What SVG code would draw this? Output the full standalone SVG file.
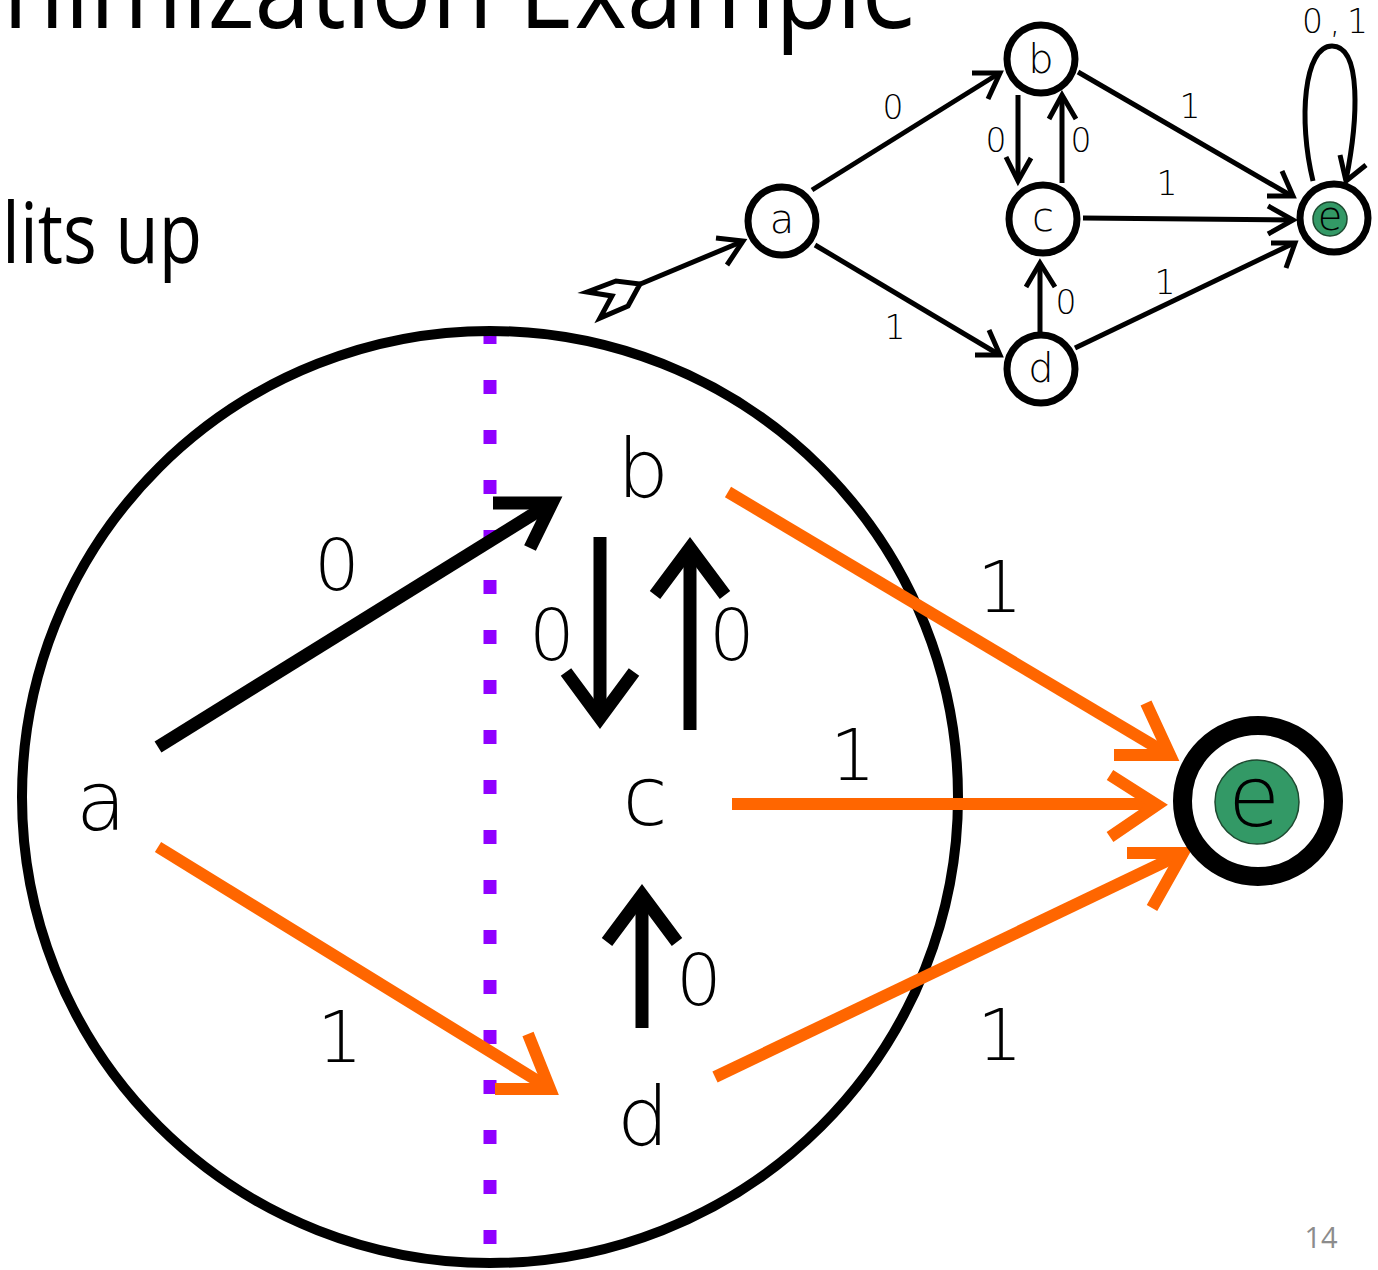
<svg xmlns="http://www.w3.org/2000/svg" width="1378" height="1270" viewBox="0 0 1378 1270">
<style>
.bg{fill:#ffffff}
.title{font-family:"Open Sans","Liberation Sans",sans-serif;fill:#000}
.lt{font-family:"DejaVu Sans","Liberation Sans",sans-serif;font-weight:200;fill:#000;text-anchor:middle}
.dg{font-family:"DejaVu Sans","Liberation Sans",sans-serif;font-weight:200;fill:#000;text-anchor:middle}
.blk{fill:none;stroke:#000;stroke-width:13;stroke-linejoin:miter;stroke-miterlimit:10}
.org{fill:none;stroke:#FF6600;stroke-width:12;stroke-linejoin:miter;stroke-miterlimit:10}
.sm{fill:none;stroke:#000;stroke-width:5;stroke-linejoin:miter;stroke-miterlimit:10}
.node{fill:#fff;stroke:#000;stroke-width:7}
.green{fill:#339966;stroke:#1d4a30;stroke-width:1.5}
</style>
<rect class="bg" x="0" y="0" width="1378" height="1270"/>

<!-- slide texts -->
<text class="title" x="3" y="28" font-size="112" textLength="915" lengthAdjust="spacingAndGlyphs">nimization Example</text>
<text class="title" x="2" y="263" font-size="84" textLength="200" lengthAdjust="spacingAndGlyphs">lits up</text>
<text x="1321" y="1248" font-size="29" fill="#8c8c8c" text-anchor="middle" font-family="'Open Sans','Liberation Sans',sans-serif">14</text>

<!-- big diagram: partition line and group circle -->
<g id="partition">
<line x1="490" y1="330" x2="490" y2="1245" stroke="#9000FF" stroke-width="13" stroke-dasharray="14 36"/>
</g>
<g id="group">
<ellipse cx="490" cy="797" rx="468" ry="466" fill="none" stroke="#000" stroke-width="10"/>
</g>

<!-- big diagram connectors -->
<g id="connectors-big">
<line class="blk" x1="158" y1="747" x2="548" y2="505"/>
<polyline class="blk" points="493,503 552,503 530,548"/>
<line class="blk" x1="600" y1="537" x2="600" y2="712"/>
<polyline class="blk" points="566,672 600,718 634,672"/>
<line class="blk" x1="690" y1="730" x2="690" y2="554"/>
<polyline class="blk" points="655,595 690,548 725,595"/>
<line class="blk" x1="642" y1="1028" x2="642" y2="900"/>
<polyline class="blk" points="607,942 642,895 677,942"/>
<line class="org" x1="158" y1="847" x2="546" y2="1086"/>
<polyline class="org" points="495,1089 550,1089 528,1034"/>
<line class="org" x1="728" y1="492" x2="1166" y2="753"/>
<polyline class="org" points="1114,755 1170,755 1146,703"/>
<line class="org" x1="732" y1="804" x2="1154" y2="804"/>
<polyline class="org" points="1110,775 1157,805 1110,837"/>
<line class="org" x1="715" y1="1077" x2="1179" y2="855"/>
<polyline class="org" points="1127,853 1183,853 1152,908"/>
</g>

<!-- big diagram labels -->
<g id="labels-big">
<text class="dg" x="337" y="590" font-size="72">0</text>
<text class="dg" x="552" y="660" font-size="72">0</text>
<text class="dg" x="732" y="660" font-size="72">0</text>
<text class="dg" x="699" y="1005" font-size="72">0</text>
<text class="dg" x="853" y="780" font-size="72">1</text>
<text class="dg" x="1000" y="612" font-size="72">1</text>
<text class="dg" x="1000" y="1060" font-size="72">1</text>
<text class="dg" x="340" y="1062" font-size="72">1</text>
</g>

<!-- big nodes -->
<g id="A"><text class="lt" x="101" y="830" font-size="82">a</text></g>
<g id="B"><text class="lt" x="643" y="497" font-size="82">b</text></g>
<g id="C"><text class="lt" x="645" y="825" font-size="82">c</text></g>
<g id="D"><text class="lt" x="643" y="1145" font-size="82">d</text></g>
<g id="E">
<circle cx="1258" cy="801" r="75.5" fill="#fff" stroke="#000" stroke-width="19"/>
<circle class="green" cx="1257" cy="802" r="42"/>
<text class="lt" x="1254" y="826" font-size="84">e</text>
</g>

<!-- small diagram connectors -->
<g id="connectors-small">
<polygon points="587,292 616,281 640,284 628,306 600,318 612,296" fill="#fff" stroke="#000" stroke-width="5" stroke-linejoin="miter"/>
<line class="sm" x1="638" y1="285" x2="741" y2="242"/>
<polyline class="sm" points="716,238 743,241 727,265"/>
<line class="sm" x1="812" y1="190" x2="998" y2="74"/>
<polyline class="sm" points="972,73 1000,73 988,99"/>
<line class="sm" x1="815" y1="245" x2="998" y2="354"/>
<polyline class="sm" points="975,355 1000,355 989,330"/>
<line class="sm" x1="1018" y1="95" x2="1018" y2="178"/>
<polyline class="sm" points="1006,157 1018,181 1031,158"/>
<line class="sm" x1="1062" y1="183" x2="1062" y2="98"/>
<polyline class="sm" points="1049,119 1062,95 1076,119"/>
<line class="sm" x1="1040" y1="333" x2="1040" y2="266"/>
<polyline class="sm" points="1026,287 1040,263 1055,287"/>
<line class="sm" x1="1078" y1="72" x2="1290" y2="195"/>
<polyline class="sm" points="1267,196 1293,196 1282,171"/>
<line class="sm" x1="1083" y1="218" x2="1291" y2="220"/>
<polyline class="sm" points="1268,206 1293,220 1268,234"/>
<line class="sm" x1="1075" y1="348" x2="1292" y2="244"/>
<polyline class="sm" points="1271,243 1295,243 1286,268"/>
<path class="sm" d="M1313,181 C1298,120 1304,46 1332,46 C1362,46 1358,120 1346,180"/>
<polyline class="sm" points="1340,155 1346,181 1366,165"/>
</g>

<!-- small diagram labels -->
<g id="labels-small">
<text class="dg" x="893" y="119" font-size="33">0</text>
<text class="dg" x="996" y="152" font-size="33">0</text>
<text class="dg" x="1081" y="152" font-size="33">0</text>
<text class="dg" x="1190" y="118" font-size="33">1</text>
<text class="dg" x="1167" y="195" font-size="33">1</text>
<text class="dg" x="1165" y="294" font-size="33">1</text>
<text class="dg" x="1066" y="314" font-size="33">0</text>
<text class="dg" x="895" y="339" font-size="33">1</text>
<text class="dg" x="1335" y="33" font-size="33" textLength="66">0,1</text>
</g>

<!-- small nodes -->
<g id="sa"><circle class="node" cx="782" cy="221" r="34"/><text class="lt" x="782" y="233" font-size="40">a</text></g>
<g id="sb"><circle class="node" cx="1041" cy="59" r="34"/><text class="lt" x="1041" y="73" font-size="40">b</text></g>
<g id="sc"><circle class="node" cx="1043" cy="219" r="34"/><text class="lt" x="1043" y="231" font-size="40">c</text></g>
<g id="sd"><circle class="node" cx="1041" cy="369" r="34"/><text class="lt" x="1041" y="382" font-size="40">d</text></g>
<g id="se"><circle class="node" cx="1334" cy="218" r="34"/><circle class="green" cx="1330" cy="219" r="17"/><text class="lt" x="1330" y="230" font-size="40">e</text></g>
</svg>
